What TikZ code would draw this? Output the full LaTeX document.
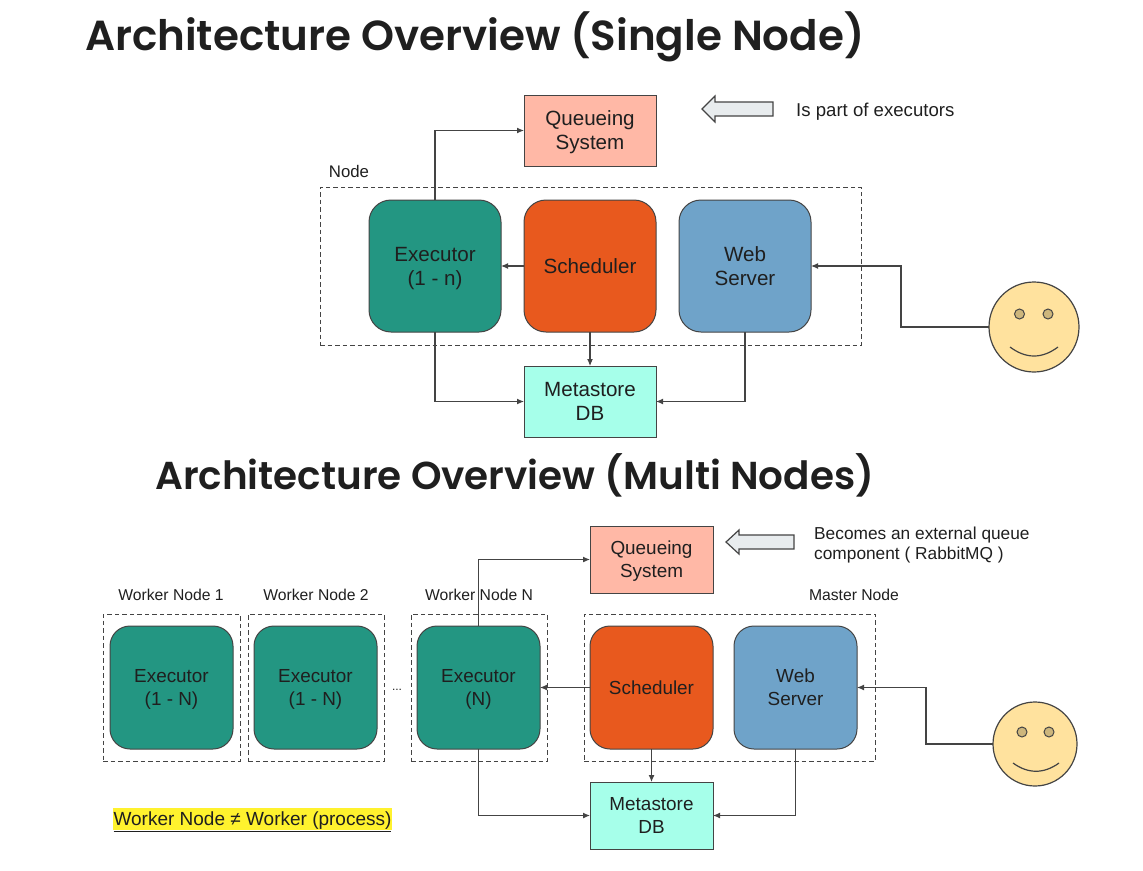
\documentclass[tikz,border=0pt]{standalone}
\usepackage{fontspec}
\setmainfont{Liberation Sans}
\newfontfamily\titlefont{Poppins SemiBold}
\usepackage{tikz}
\usetikzlibrary{positioning}
\usetikzlibrary{calc,arrows.meta}
\definecolor{ov-text}{HTML}{1F1F1F}
\definecolor{ov-line}{HTML}{444444}
\definecolor{ov-queue}{HTML}{FFB8A6}
\definecolor{ov-exec}{HTML}{239682}
\definecolor{ov-sched}{HTML}{E8591E}
\definecolor{ov-web}{HTML}{6FA3C9}
\definecolor{ov-meta}{HTML}{A6FFEA}
\definecolor{ov-face}{HTML}{FFE29E}
\definecolor{ov-eye}{HTML}{CDB67C}
\definecolor{ov-hollow}{HTML}{E8ECEE}
\definecolor{ov-mark}{HTML}{FFF22E}
\tikzset{basic/.style={draw=ov-line,line width=1pt,inner sep=0pt,outer sep=0pt,align=center,text=ov-text,text depth=-1pt}}
\tikzset{title/.style={inner sep=0pt,anchor=west,text=ov-text}}
\tikzset{caption/.style={inner sep=0pt,text=ov-text,font=\fontsize{15.7}{20}\selectfont}}

\begin{document}
\begin{tikzpicture}[
    x=1pt, y=-1pt,
    node distance=23pt and 23pt,
    >={Latex[length=7pt,width=6pt]}
  ]
  \useasboundingbox (0,0) rectangle (1143,870);

  % Global Style Definitions
  \tikzset{
    square/.style={basic, minimum width=132pt, minimum height=71pt, font=\fontsize{20.6}{24}\selectfont},
    round/.style={basic, rounded corners=22pt, minimum width=132pt, minimum height=132pt, font=\fontsize{20.6}{24}\selectfont},
    squaresm/.style={basic, minimum width=123pt, minimum height=67pt, font=\fontsize{18.9}{23}\selectfont},
    roundsm/.style={basic, rounded corners=20pt, minimum width=123pt, minimum height=123pt, font=\fontsize{18.9}{23}\selectfont},
    frame/.style={draw=ov-line, dash pattern=on 4.5pt off 3pt, line width=1pt, inner sep=0pt, outer sep=0pt},
    link/.style={->, ov-line, line width=1.1pt},
    hollow/.style={draw=ov-line, fill=ov-hollow, line width=1.2pt},
    face/.style={draw=ov-line, fill=ov-face, circle, line width=1.2pt, inner sep=0pt, outer sep=0pt},
    eye/.style={draw=ov-line, fill=ov-eye, circle, line width=1pt, inner sep=0pt, minimum size=10pt}
  }

  % Titles
  \node (titleone) [title, font=\titlefont\fontsize{42}{48}\selectfont] at (85,37) {Architecture Overview (Single Node)};
  \node (titletwo) [title, font=\titlefont\fontsize{38.9}{48}\selectfont] at (155,475) {Architecture Overview (Multi Nodes)};

  % Top Part: Single Node
  \node (frame) [frame, minimum width=541pt, minimum height=158pt] at (590.5,266) {};
  \node (framelabel) [caption, font=\fontsize{16.8}{20}\selectfont] at (349,171) {Node};
  \node (sched) [round, fill=ov-sched] at (590,266) {Scheduler};
  \node (exec) [round, fill=ov-exec, left=of sched] {Executor\\(1 - n)};
  \node (web) [round, fill=ov-web, right=of sched] {Web\\Server};
  \node (queue) [square, fill=ov-queue] at (590,130.5) {Queueing\\System};
  \node (meta) [square, fill=ov-meta] at (590,401.5) {Metastore\\DB};
  \node (note) [caption, anchor=west, font=\fontsize{18.6}{20}\selectfont] at (796,112) {Is part of executors};
  \node (face) [face, minimum size=90pt] at (1034,327) {};
  \node (eyea) [eye] at (1019.5,314) {};
  \node (eyeb) [eye] at (1048,314) {};
  \coordinate (smilea) at (1010,347);
  \coordinate (smileb) at (1058,347);
  \draw[ov-line, line width=1.2pt] (smilea) .. controls (1026,359) and (1042,359) .. (smileb);
  \draw[hollow] (702,109) -- (715,96) -- (715,102) -- (773,102) -- (773,116) -- (715,116) -- (715,122) -- cycle;

  % Connections for Top Part
  \draw[link] (exec.north) |- (queue.west);
  \draw[link] (sched) -- (exec);
  \draw[link] (sched) -- (meta);
  \draw[link] (exec.south) |- (meta.west);
  \draw[link] (web.south) |- (meta.east);
  \draw[link] (face.west) -| (901,266) -- (web.east);

  % Bottom Part: Multi Nodes
  \node (frameone) [frame, minimum width=137pt, minimum height=147pt] at (171.5,687.5) {};
  \node (frametwo) [frame, minimum width=136pt, minimum height=147pt] at (316,687.5) {};
  \node (framen) [frame, minimum width=136pt, minimum height=147pt] at (479,687.5) {};
  \node (framemaster) [frame, minimum width=291pt, minimum height=147pt] at (729.5,687.5) {};
  \node (labelone) [caption] at (171,595) {Worker Node 1};
  \node (labeltwo) [caption] at (316,595) {Worker Node 2};
  \node (labeln) [caption] at (479,595) {Worker Node N};
  \node (labelmaster) [caption] at (854,595) {Master Node};
  \node (execa) [roundsm, fill=ov-exec] at (171.5,687.5) {Executor\\(1 - N)};
  \node (execb) [roundsm, fill=ov-exec, right=21pt of execa] {Executor\\(1 - N)};
  \node (dots) [caption, font=\fontsize{12}{14}\selectfont] at (397,690) {...};
  \node (execn) [roundsm, fill=ov-exec] at (478.5,687.5) {Executor\\(N)};
  \node (schedb) [roundsm, fill=ov-sched, right=50pt of execn] {Scheduler};
  \node (webb) [roundsm, fill=ov-web, right=21pt of schedb] {Web\\Server};
  \node (queueb) [squaresm, fill=ov-queue] at (651.5,559.5) {Queueing\\System};
  \node (metab) [squaresm, fill=ov-meta] at (651.5,815.5) {Metastore\\DB};
  \node (noteb) [caption, anchor=west, align=left, font=\fontsize{17.3}{20}\selectfont] at (814,545) {Becomes an external queue\\component ( RabbitMQ )};
  \node (warn) [fill=ov-mark, inner sep=0pt, minimum width=279pt, minimum height=22pt, text=ov-text, text depth=-3pt, font=\fontsize{19}{20}\selectfont] at (252.5,819) {\underline{Worker Node ≠ Worker (process)}};
  \node (faceb) [face, minimum size=84pt] at (1035,744) {};
  \node (eyec) [eye] at (1022,732) {};
  \node (eyed) [eye] at (1049,732) {};
  \coordinate (smilec) at (1013,763);
  \coordinate (smiled) at (1059,763);
  \draw[ov-line, line width=1.2pt] (smilec) .. controls (1028,774) and (1044,774) .. (smiled);
  \draw[hollow] (726,542) -- (739,530) -- (739,535) -- (794,535) -- (794,549) -- (739,549) -- (739,554) -- cycle;

  % Connections for Bottom Part
  \draw[link] (execn.north) |- (queueb.west);
  \draw[link] (schedb) -- (execn);
  \draw[link] (schedb) -- (metab);
  \draw[link] (execn.south) |- (metab.west);
  \draw[link] (webb.south) |- (metab.east);
  \draw[link] (faceb.west) -| (926,687.5) -- (webb.east);

\end{tikzpicture}
\end{document}
